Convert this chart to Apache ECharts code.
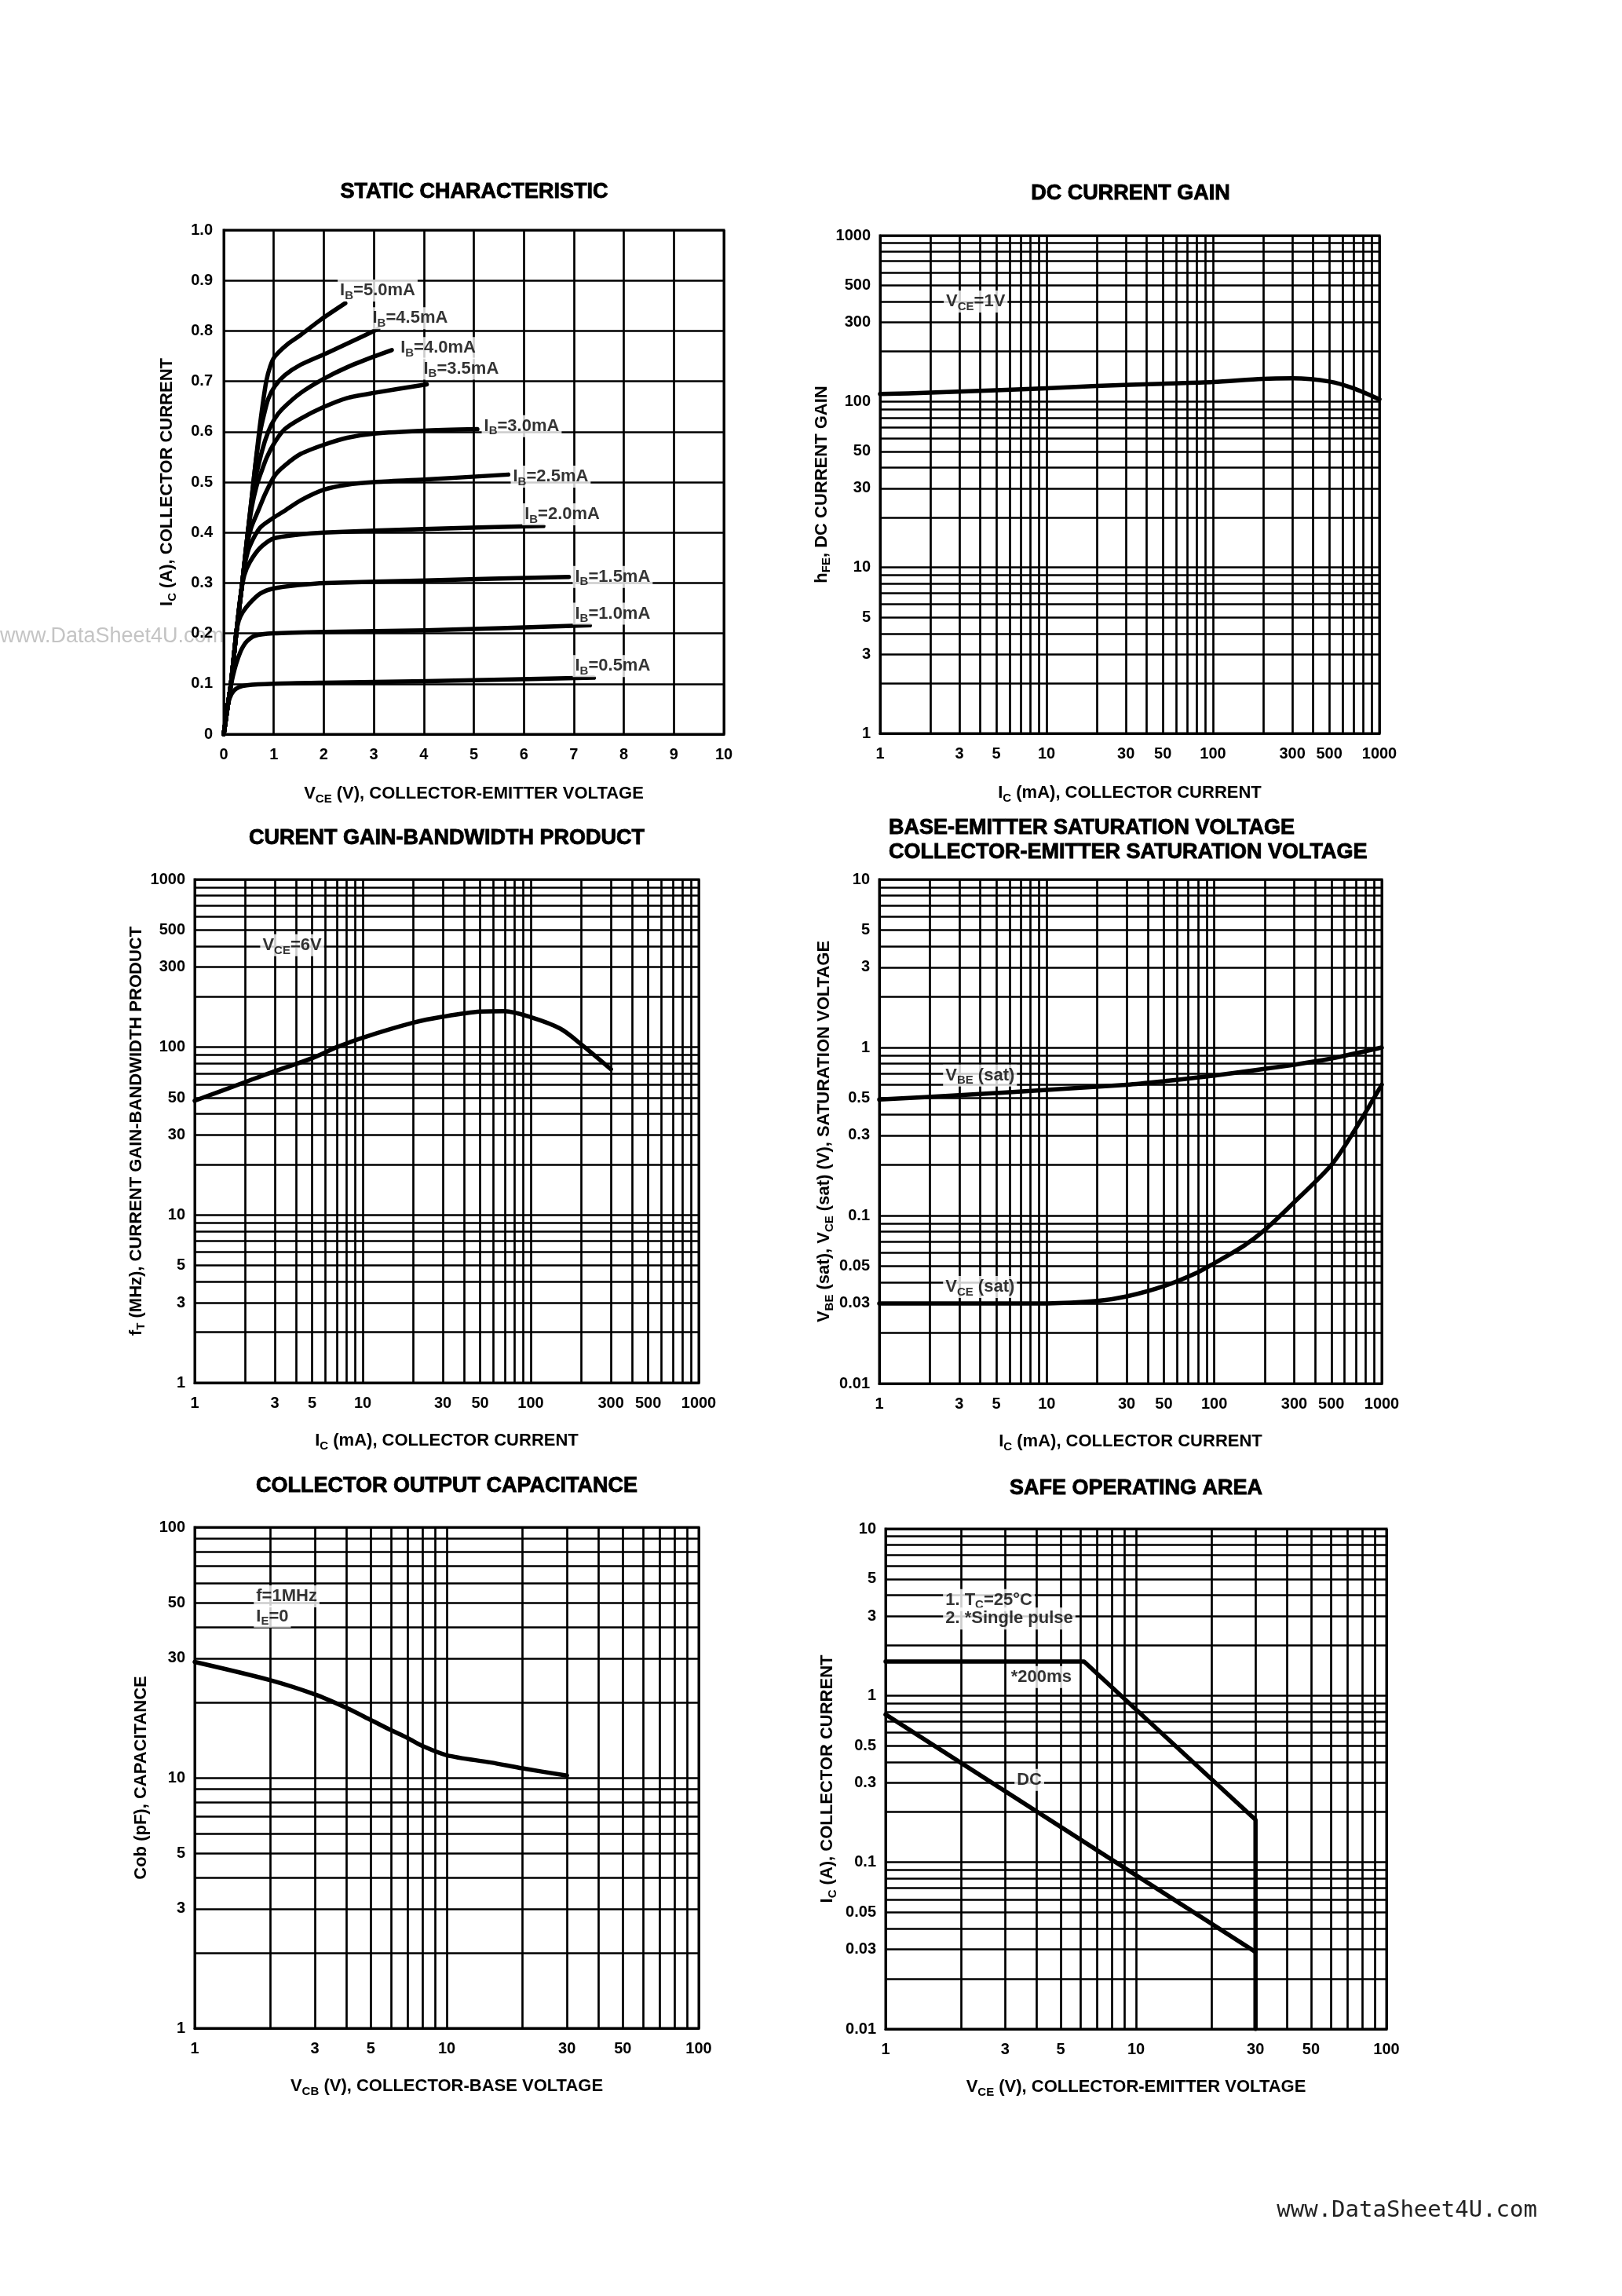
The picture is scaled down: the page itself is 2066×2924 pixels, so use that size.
<!DOCTYPE html>
<html><head><meta charset="utf-8">
<script src="https://cdn.jsdelivr.net/npm/echarts@6/dist/echarts.min.js"></script>
<style>html,body{margin:0;padding:0;background:#fff}#c{width:2066px;height:2924px}</style>
</head><body><div id="c"></div><script>
// ---------- DATA ----------
// Static characteristic: Ic (A) vs Vce (V) for several IB
const ib50 = [[0,0],[0.1,0.07],[0.15,0.105],[0.25,0.2],[0.37,0.3],[0.47,0.39],[0.56,0.47],[0.65,0.55],[0.72,0.61],[0.78,0.655],[0.85,0.7],[0.93,0.73],[1.02,0.749],[1.28,0.774],[1.54,0.792],[1.95,0.823],[2.43,0.855]];
const ib45 = [[0,0],[0.1,0.07],[0.15,0.105],[0.25,0.2],[0.37,0.3],[0.47,0.39],[0.56,0.47],[0.64,0.54],[0.73,0.6],[0.81,0.636],[0.89,0.665],[1.02,0.69],[1.22,0.712],[1.54,0.733],[2.06,0.756],[2.58,0.78],[3.09,0.804]];
const ib40 = [[0,0],[0.1,0.07],[0.15,0.105],[0.25,0.2],[0.37,0.3],[0.47,0.39],[0.6,0.49],[0.76,0.56],[0.89,0.6],[1.02,0.626],[1.17,0.645],[1.54,0.677],[2,0.705],[2.47,0.728],[3,0.749],[3.36,0.762]];
const ib35 = [[0,0],[0.1,0.07],[0.15,0.105],[0.25,0.2],[0.37,0.3],[0.47,0.39],[0.56,0.45],[0.65,0.49],[0.75,0.52],[0.86,0.549],[1.02,0.579],[1.22,0.605],[1.54,0.626],[2,0.649],[2.47,0.667],[3,0.677],[4.06,0.694]];
const ib30 = [[0,0],[0.1,0.07],[0.15,0.105],[0.25,0.2],[0.37,0.3],[0.45,0.365],[0.55,0.41],[0.7,0.446],[0.83,0.477],[1.02,0.513],[1.22,0.533],[1.54,0.556],[2,0.574],[2.47,0.588],[3,0.596],[4,0.602],[5.07,0.605]];
const ib25 = [[0,0],[0.1,0.07],[0.15,0.105],[0.25,0.2],[0.37,0.3],[0.44,0.345],[0.52,0.373],[0.73,0.41],[1.02,0.431],[1.2,0.442],[1.54,0.464],[2,0.485],[2.47,0.495],[3,0.5],[4,0.505],[5.69,0.515]];
const ib20 = [[0,0],[0.1,0.07],[0.15,0.105],[0.25,0.2],[0.33,0.27],[0.41,0.315],[0.52,0.341],[0.73,0.37],[0.99,0.388],[1.5,0.396],[2,0.4],[4,0.407],[6.39,0.413]];
const ib15 = [[0,0],[0.1,0.07],[0.15,0.105],[0.25,0.2],[0.3,0.225],[0.38,0.242],[0.52,0.26],[0.73,0.279],[0.99,0.289],[1.5,0.296],[2.04,0.3],[4.04,0.305],[6.9,0.312]];
const ib10 = [[0,0],[0.1,0.07],[0.15,0.1],[0.22,0.13],[0.29,0.152],[0.36,0.169],[0.46,0.184],[0.62,0.195],[0.99,0.2],[2.04,0.203],[4.04,0.206],[7.32,0.216]];
const ib05 = [[0,0],[0.06,0.045],[0.12,0.072],[0.2,0.086],[0.3,0.093],[0.46,0.097],[0.99,0.1],[2,0.102],[4.04,0.105],[7.4,0.112]];
const ibCurves = [ib50, ib45, ib40, ib35, ib30, ib25, ib20, ib15, ib10, ib05];
const ibNames = ['5.0mA','4.5mA','4.0mA','3.5mA','3.0mA','2.5mA','2.0mA','1.5mA','1.0mA','0.5mA'];
const ibNotePos = [[2.27,0.88],[2.92,0.825],[3.48,0.766],[3.94,0.725],[5.15,0.611],[5.73,0.511],[5.96,0.436],[6.97,0.312],[6.97,0.239],[6.97,0.135]];
const staticXTicks = [0,1,2,3,4,5,6,7,8,9,10];

// DC current gain: hFE vs Ic (mA), VCE=1V
const hfeIc = [1,2,5,10,20,50,100,200,300,500,700,1000];
const hfeVal = [111,113,117,120,124,128,131,137,138,132,120,103];

// Current gain-bandwidth product: fT (MHz) vs Ic (mA), VCE=6V
const ftIc = [1,2,3,5,7,10,20,30,50,70,100,150,200,300];
const ftVal = [48,62,72,86,100,114,140,152,163,164,151,129,104,74];

// Saturation voltages vs Ic (mA)
const vbeIc = [1,3,10,30,50,100,300,500,1000];
const vbeVal = [0.49,0.52,0.56,0.6,0.63,0.68,0.79,0.86,1.0];
const vceIc = [1,3,10,20,30,50,80,100,150,200,300,500,700,1000];
const vceVal = [0.03,0.03,0.03,0.031,0.033,0.038,0.046,0.052,0.066,0.082,0.12,0.2,0.33,0.6];

// Collector output capacitance: Cob (pF) vs Vcb (V)
const cobV = [1,2,3,4,5,6,7,8,10,15,20,30];
const cobVal = [29,24.5,21.5,19,17,15.5,14.4,13.4,12.3,11.5,10.9,10.2];

// Safe operating area: Ic (A) vs Vce (V)
const soaPulse = [[1,1.6],[6.2,1.6],[30,0.18],[30,0.01]];
const soaDC = [[1,0.77],[30,0.029]];

// Tick labels on log axes
const ticksMA = [1,3,5,10,30,50,100,300,500,1000];
const ticksDecade3 = [1,3,5,10,30,50,100,300,500,1000];
const ticksVolt = [0.01,0.03,0.05,0.1,0.3,0.5,1,3,5,10];
const ticksV100 = [1,3,5,10,30,50,100];

// ---------- STYLE / HELPERS ----------
const FONT = '"Liberation Sans", Arial, Helvetica, sans-serif';
const K = '#000';
const RICH = {
  n: {fontFamily: FONT, fontWeight: 'bold', fontSize: 22, color: K, lineHeight: 28},
  s: {fontFamily: FONT, fontWeight: 'bold', fontSize: 15, color: K, lineHeight: 19, verticalAlign: 'bottom'}
};
const RICH_NAME = {
  n: {fontFamily: FONT, fontWeight: 'bold', fontSize: 22, color: K, lineHeight: 28},
  s: {fontFamily: FONT, fontWeight: 'bold', fontSize: 15, color: K, lineHeight: 19, verticalAlign: 'bottom'}
};
function logGrid(min, max) {
  const out = [];
  const e0 = Math.round(Math.log10(min)), e1 = Math.round(Math.log10(max));
  for (let e = e0; e < e1; e++) for (let k = 1; k < 10; k++) out.push(+(k * Math.pow(10, e)).toPrecision(6));
  out.push(max);
  return out;
}
const fmtNum = v => String(+(+v).toPrecision(6));
function baseAxis(gi, name, gap, margin, isY) {
  return {
    gridIndex: gi,
    name: name, nameLocation: 'middle', nameGap: gap, nameRotate: isY ? 90 : 0,
    nameTextStyle: {rich: RICH_NAME, fontFamily: FONT, fontWeight: 'bold', fontSize: 22, color: K},
    axisLine: {show: true, onZero: false, lineStyle: {color: K, width: 3}},
    splitLine: {show: true, lineStyle: {color: K, width: 2.7}},
    axisLabel: {color: K, fontFamily: FONT, fontWeight: 'bold', fontSize: 20, margin: margin}
  };
}
function logAxis(gi, min, max, labels, name, gap, margin, isY) {
  const a = baseAxis(gi, name, gap, margin, isY);
  a.type = 'log'; a.logBase = 10; a.min = min; a.max = max;
  a.axisTick = {show: false, customValues: logGrid(min, max)};
  a.axisLabel.customValues = labels;
  a.axisLabel.formatter = fmtNum;
  return a;
}
function lineSeries(gi, data, smooth) {
  return {type: 'line', xAxisIndex: gi, yAxisIndex: gi, data: data, showSymbol: false, symbol: 'none',
    smooth: smooth, lineStyle: {color: K, width: 5.5, cap: 'round', join: 'round'}, z: 5, silent: true, animation: false};
}
function noteSeries(gi, pos, texts) {
  return {type: 'scatter', xAxisIndex: gi, yAxisIndex: gi, symbolSize: 1, itemStyle: {color: 'rgba(0,0,0,0)'},
    silent: true, animation: false, z: 6,
    data: pos.map((p, i) => ({value: p, name: texts[i]})),
    label: {show: true, position: 'right', distance: 0, formatter: p => p.name, rich: RICH,
      backgroundColor: '#fff', padding: [0, 3, 0, 3]}};
}
const zip = (xs, ys) => xs.map((x, i) => [x, ys[i]]);

// ---------- LAYOUT ----------
const grids = [
  {left: 285, top: 293, width: 637, height: 642},
  {left: 1121, top: 300, width: 636, height: 634},
  {left: 248, top: 1120, width: 642, height: 641},
  {left: 1120, top: 1120, width: 640, height: 642},
  {left: 248, top: 1945, width: 642, height: 638},
  {left: 1128, top: 1947, width: 638, height: 637}
].map(g => Object.assign({show: true, borderColor: K, borderWidth: 3, backgroundColor: 'transparent'}, g));

const nmIc = '{n|I}{s|C}{n| (mA), COLLECTOR CURRENT}';

// Chart 1 axes (linear)
const x1 = baseAxis(0, '{n|V}{s|CE}{n| (V), COLLECTOR-EMITTER VOLTAGE}', 62, 16, false);
Object.assign(x1, {type: 'value', min: 0, max: 10, interval: 1, axisTick: {show: false}});
x1.axisLabel.customValues = staticXTicks;
const y1 = baseAxis(0, '{n|I}{s|C}{n| (A), COLLECTOR CURRENT}', 58, 14, true);
Object.assign(y1, {type: 'value', min: 0, max: 1, interval: 0.1, axisTick: {show: false}});
y1.axisLabel.formatter = v => (v === 0 ? '0' : v.toFixed(1));

const xAxes = [
  x1,
  logAxis(1, 1, 1000, ticksMA, nmIc, 62, 16, false),
  logAxis(2, 1, 1000, ticksMA, nmIc, 60, 16, false),
  logAxis(3, 1, 1000, ticksMA, nmIc, 60, 16, false),
  logAxis(4, 1, 100, ticksV100, '{n|V}{s|CB}{n| (V), COLLECTOR-BASE VOLTAGE}', 60, 16, false),
  logAxis(5, 1, 100, ticksV100, '{n|V}{s|CE}{n| (V), COLLECTOR-EMITTER VOLTAGE}', 60, 16, false)
];
const yAxes = [
  y1,
  logAxis(1, 1, 1000, ticksDecade3, '{n|h}{s|FE}{n|, DC CURRENT GAIN}', 58, 12, true),
  logAxis(2, 1, 1000, ticksDecade3, '{n|f}{s|T}{n| (MHz), CURRENT GAIN-BANDWIDTH PRODUCT}', 56, 12, true),
  logAxis(3, 0.01, 10, ticksVolt, '{n|V}{s|BE}{n| (sat), V}{s|CE}{n| (sat) (V), SATURATION VOLTAGE}', 56, 12, true),
  logAxis(4, 1, 100, ticksV100, '{n|Cob (pF), CAPACITANCE}', 54, 12, true),
  logAxis(5, 0.01, 10, ticksVolt, '{n|I}{s|C}{n| (A), COLLECTOR CURRENT}', 60, 12, true)
];

const series = [];
ibCurves.forEach(c => series.push(lineSeries(0, c, 0.25)));
series.push(noteSeries(0, ibNotePos, ibNames.map(n => '{n|I}{s|B}{n|=' + n + '}')));
series.push(lineSeries(1, zip(hfeIc, hfeVal), 0.3));
series.push(noteSeries(1, [[2.4, 400]], ['{n|V}{s|CE}{n|=1V}']));
series.push(lineSeries(2, zip(ftIc, ftVal), 0.3));
series.push(noteSeries(2, [[2.44, 405]], ['{n|V}{s|CE}{n|=6V}']));
series.push(lineSeries(3, zip(vbeIc, vbeVal), 0.3));
series.push(lineSeries(3, zip(vceIc, vceVal), 0.3));
series.push(noteSeries(3, [[2.39, 0.68], [2.39, 0.0376]], ['{n|V}{s|BE}{n| (sat)}', '{n|V}{s|CE}{n| (sat)}']));
series.push(lineSeries(4, zip(cobV, cobVal), 0.3));
series.push(noteSeries(4, [[1.71, 53], [1.71, 44]], ['{n|f=1MHz}', '{n|I}{s|E}{n|=0}']));
series.push(lineSeries(5, soaPulse, false));
series.push(lineSeries(5, soaDC, false));
series.push(noteSeries(5, [[1.69, 3.74], [1.69, 2.9], [3.09, 1.29], [3.26, 0.312]],
  ['{n|1. T}{s|C}{n|=25°C}', '{n|2. *Single pulse}', '{n|*200ms}', '{n|DC}']));

function titleText(text, x, y, align) {
  return {type: 'text', x: x, y: y, z: 10, silent: true,
    style: {text: text, fill: K, stroke: K, lineWidth: 0.9, fontFamily: FONT, fontWeight: 'bold', fontSize: 27,
      align: align || 'center', verticalAlign: 'middle'}};
}
const graphics = [
  {type: 'text', x: 0, y: 811, z: -10, silent: true,
   style: {text: 'www.DataSheet4U.com', fill: '#c4c4c4', fontFamily: FONT, fontSize: 27, align: 'left', verticalAlign: 'middle'}},
  titleText('STATIC CHARACTERISTIC', 604, 245),
  titleText('DC CURRENT GAIN', 1440, 247),
  titleText('CURENT GAIN-BANDWIDTH PRODUCT', 569, 1068),
  titleText('BASE-EMITTER SATURATION VOLTAGE', 1132, 1055, 'left'),
  titleText('COLLECTOR-EMITTER SATURATION VOLTAGE', 1132, 1086, 'left'),
  titleText('COLLECTOR OUTPUT CAPACITANCE', 569, 1893),
  titleText('SAFE OPERATING AREA', 1447, 1896),
  {type: 'text', x: 1958, y: 2815, silent: true,
   style: {text: 'www.DataSheet4U.com', fill: '#222', fontFamily: '"DejaVu Sans Mono", "Liberation Mono", monospace', fontSize: 29, align: 'right', verticalAlign: 'middle'}}
];

const chart = echarts.init(document.getElementById('c'), null, {renderer: 'canvas'});
chart.setOption({
  backgroundColor: '#fff',
  animation: false,
  grid: grids,
  xAxis: xAxes,
  yAxis: yAxes,
  series: series,
  graphic: graphics
});
</script></body></html>
